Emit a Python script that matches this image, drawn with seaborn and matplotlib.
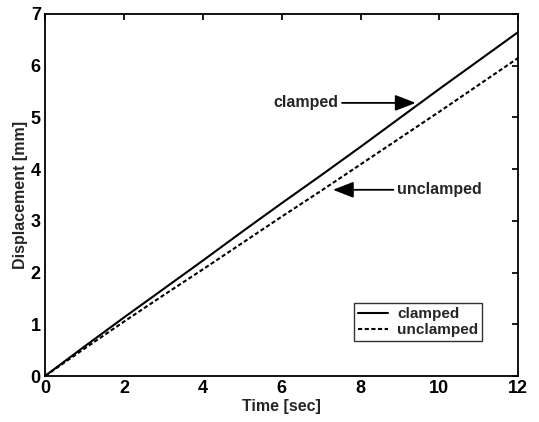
import matplotlib
matplotlib.use("Agg")
import matplotlib.pyplot as plt
import seaborn as sns
import pandas as pd

time_sec = [0, 1, 2, 3, 4, 5, 6, 7, 8, 9, 10, 11, 12]
clamped = [0, 0.57, 1.13, 1.68, 2.23, 2.79, 3.34, 3.88, 4.43, 4.99, 5.55, 6.10, 6.65]
unclamped = [0, 0.53, 1.05, 1.56, 2.06, 2.57, 3.08, 3.58, 4.09, 4.60, 5.11, 5.63, 6.15]

df = pd.DataFrame({
    "time": time_sec * 2,
    "disp": clamped + unclamped,
    "case": ["clamped"] * len(time_sec) + ["unclamped"] * len(time_sec),
})

sns.set_theme(style="white")
plt.rcParams["font.family"] = ["Liberation Sans", "DejaVu Sans"]
plt.rcParams["font.weight"] = "bold"

fig = plt.figure(figsize=(5.39, 4.22), dpi=100)
ax = fig.add_axes([0.0835, 0.109, 0.878, 0.858])

sns.lineplot(
    data=df, x="time", y="disp", style="case",
    dashes={"clamped": "", "unclamped": (2, 1.2)},
    color="black", linewidth=1.5, ax=ax,
)

ax.set_xlim(0, 12)
ax.set_ylim(0, 7)
ax.set_xticks(range(0, 13, 2))
ax.set_yticks(range(0, 8))
ax.tick_params(direction="in", top=True, right=True, length=4,
               labelsize=13, colors="black", pad=3)
for lbl in ax.get_xticklabels() + ax.get_yticklabels():
    lbl.set_fontweight("bold")
for sp in ax.spines.values():
    sp.set_color("black")
    sp.set_linewidth(1.3)

ax.set_xlabel("Time [sec]", fontsize=11.5, fontweight="bold", labelpad=1)
ax.set_ylabel("Displacement [mm]", fontsize=11.5, fontweight="bold", labelpad=2)

arrow = dict(arrowstyle="-|>,head_length=0.9,head_width=0.35", color="black",
             lw=1.3, mutation_scale=14, shrinkA=0, shrinkB=0)
ax.annotate("clamped", xy=(9.4, 5.28), xytext=(5.8, 5.28),
            fontsize=11.5, fontweight="bold", va="center", ha="left",
            arrowprops=arrow)
ax.annotate("unclamped", xy=(7.3, 3.6), xytext=(8.92, 3.6),
            fontsize=11.5, fontweight="bold", va="center", ha="left",
            arrowprops=arrow)

leg = ax.legend(loc="lower right", bbox_to_anchor=(0.94, 0.075), fontsize=11,
                frameon=True, fancybox=False, edgecolor="black",
                handlelength=2.0, handletextpad=0.6, borderpad=0.25,
                labelspacing=0.15)
leg.get_frame().set_linewidth(1.0)
for t in leg.get_texts():
    t.set_fontweight("bold")

fig.savefig("out.png", dpi=100)
